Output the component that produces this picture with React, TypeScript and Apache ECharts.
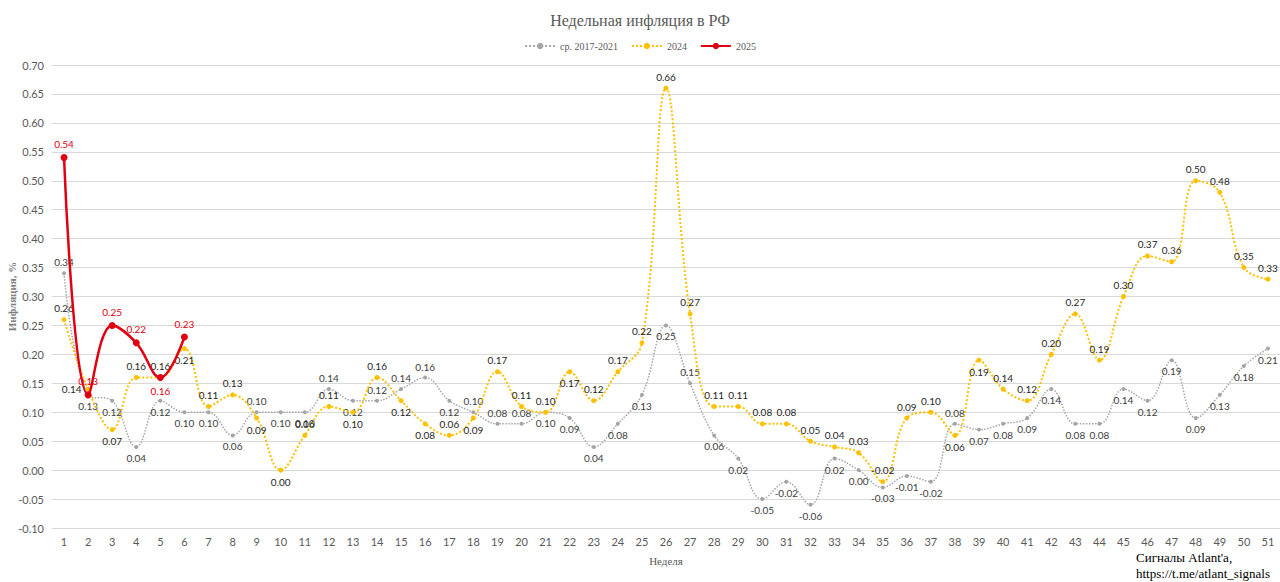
import React, { useEffect, useRef } from "react";
import * as echarts from "echarts";

const weeks = Array.from({ length: 51 }, (_, i) => String(i + 1));

const avg2017_2021 = [
  0.34, 0.13, 0.12, 0.04, 0.12, 0.10, 0.10, 0.06, 0.10, 0.10,
  0.10, 0.14, 0.12, 0.12, 0.14, 0.16, 0.12, 0.10, 0.08, 0.08,
  0.10, 0.09, 0.04, 0.08, 0.13, 0.25, 0.15, 0.06, 0.02, -0.05,
  -0.02, -0.06, 0.02, 0.00, -0.03, -0.01, -0.02, 0.08, 0.07, 0.08,
  0.09, 0.14, 0.08, 0.08, 0.14, 0.12, 0.19, 0.09, 0.13, 0.18,
  0.21,
];

const y2024 = [
  0.26, 0.14, 0.07, 0.16, 0.16, 0.21, 0.11, 0.13, 0.09, 0.00,
  0.06, 0.11, 0.10, 0.16, 0.12, 0.08, 0.06, 0.09, 0.17, 0.11,
  0.10, 0.17, 0.12, 0.17, 0.22, 0.66, 0.27, 0.11, 0.11, 0.08,
  0.08, 0.05, 0.04, 0.03, -0.02, 0.09, 0.10, 0.06, 0.19, 0.14,
  0.12, 0.20, 0.27, 0.19, 0.30, 0.37, 0.36, 0.50, 0.48, 0.35,
  0.33,
];

const y2025 = [0.54, 0.13, 0.25, 0.22, 0.16, 0.23];

// label placement exceptions (week numbers)
const greyTopWeeks = [1, 9, 12, 14, 15, 16, 18, 19, 20, 27, 38];
const yellowBottomWeeks = [3, 6, 9, 10, 13, 15, 16, 18, 22, 38, 39];
const yellowLeftWeeks = [2];
const redBottomWeeks = [5];

const SERIF = "'Liberation Serif', 'Times New Roman', serif";
const SANS = "Lato, 'Open Sans', sans-serif";

export default function App() {
  const ref = useRef<HTMLDivElement>(null);

  useEffect(() => {
    if (!ref.current) return;
    const chart = echarts.init(ref.current, undefined, { renderer: "svg" });

    const fmt = (p: any) => Number(p.value).toFixed(2);

    const greyData = avg2017_2021.map((v, i) => ({
      value: v,
      label: { position: greyTopWeeks.includes(i + 1) ? "top" : "bottom" },
    }));
    const yellowData = y2024.map((v, i) => {
      const w = i + 1;
      let pos = "top";
      if (yellowBottomWeeks.includes(w)) pos = "bottom";
      if (yellowLeftWeeks.includes(w)) pos = "left";
      return { value: v, label: { position: pos } };
    });
    const redData = y2025.map((v, i) => ({
      value: v,
      label: { position: redBottomWeeks.includes(i + 1) ? "bottom" : "top" },
    }));

    chart.setOption({
      animation: false,
      backgroundColor: "#ffffff",
      title: {
        text: "Недельная инфляция в РФ",
        left: "center",
        top: 7,
        textStyle: {
          fontFamily: SERIF,
          fontSize: 16,
          fontWeight: "normal",
          color: "#595959",
        },
      },
      legend: {
        top: 36,
        left: "center",
        itemWidth: 30,
        itemHeight: 8,
        itemGap: 13,
        textStyle: { fontFamily: SERIF, fontSize: 10, color: "#595959" },
        data: ["ср. 2017-2021", "2024", "2025"],
      },
      grid: {
        left: 52,
        right: 0,
        top: 65,
        bottom: 54,
        containLabel: false,
        outerBoundsMode: "none",
      },
      xAxis: {
        type: "category",
        data: weeks,
        boundaryGap: true,
        name: "Неделя",
        nameLocation: "middle",
        nameGap: 27,
        nameMoveOverlap: false,
        nameTextStyle: { fontFamily: SERIF, fontSize: 11, color: "#595959" },
        axisLine: { show: false },
        axisTick: { show: false },
        axisLabel: { fontFamily: SANS, fontSize: 11, color: "#595959", margin: 8, interval: 0 },
      },
      yAxis: {
        type: "value",
        min: -0.1,
        max: 0.7,
        interval: 0.05,
        name: "Инфляция, %",
        nameLocation: "middle",
        nameGap: 35,
        nameMoveOverlap: false,
        nameTextStyle: { fontFamily: SERIF, fontSize: 11, fontWeight: "bold", color: "#7f7f7f" },
        axisLine: { show: false },
        axisTick: { show: false },
        axisLabel: {
          fontFamily: SANS,
          fontSize: 11,
          color: "#595959",
          margin: 8,
          formatter: (v: number) => v.toFixed(2),
        },
        splitLine: { lineStyle: { color: "#d9d9d9", width: 1 } },
      },
      graphic: [
        {
          type: "text",
          left: 1136,
          top: 549,
          style: {
            text: "Сигналы Atlant'a,\nhttps://t.me/atlant_signals",
            font: `13px ${SERIF}`,
            fill: "#000000",
            lineHeight: 16,
          },
        },
      ],
      series: [
        {
          name: "ср. 2017-2021",
          type: "line",
          data: greyData,
          smooth: 0.4,
          symbol: "circle",
          symbolSize: 4,
          itemStyle: { color: "#a5a5a5" },
          lineStyle: { color: "#a5a5a5", width: 1.5, type: "dotted" },
          label: {
            show: true,
            formatter: fmt,
            fontFamily: SANS,
            fontSize: 10,
            color: "#404040",
            distance: 4,
          },
          z: 2,
        },
        {
          name: "2024",
          type: "line",
          data: yellowData,
          smooth: 0.4,
          symbol: "circle",
          symbolSize: 5,
          itemStyle: { color: "#ffc000" },
          lineStyle: { color: "#ffc000", width: 2, type: "dotted" },
          label: {
            show: true,
            formatter: fmt,
            fontFamily: SANS,
            fontSize: 10,
            color: "#262626",
            distance: 4,
          },
          z: 3,
        },
        {
          name: "2025",
          type: "line",
          data: redData,
          smooth: 0.4,
          symbol: "circle",
          symbolSize: 7,
          itemStyle: { color: "#e00012" },
          lineStyle: { color: "#e00012", width: 2.5 },
          label: {
            show: true,
            formatter: fmt,
            fontFamily: SANS,
            fontSize: 10,
            color: "#e00012",
            distance: 5,
          },
          z: 4,
        },
      ],
    });

    return () => chart.dispose();
  }, []);

  return (
    <div
      ref={ref}
      style={{ position: "fixed", left: 0, top: 0, width: 1280, height: 582, background: "#fff" }}
    />
  );
}
